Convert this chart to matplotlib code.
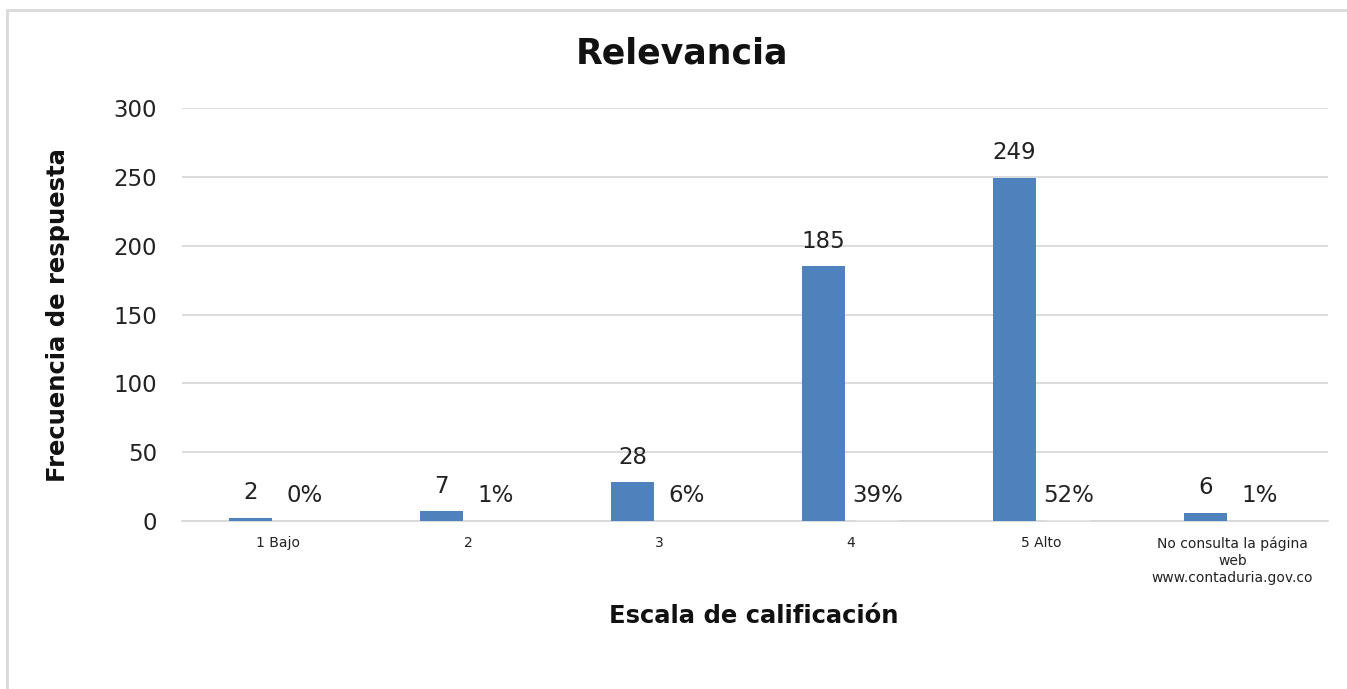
import matplotlib
matplotlib.use("Agg")
import matplotlib.pyplot as plt
import numpy as np
from matplotlib.patches import Rectangle

categories = ["1 Bajo", "2", "3", "4", "5 Alto",
              "No consulta la página\nweb\nwww.contaduria.gov.co"]
frecuencia = [2, 7, 28, 185, 249, 6]
porcentaje = [0, 1, 6, 39, 52, 1]  # percent labels

plt.rcParams['font.family'] = ['DejaVu Sans']
fig = plt.figure(figsize=(13.47, 6.89), dpi=100)
ax = fig.add_axes([182/1347, 1-521/689, (1328-182)/1347, (521-108)/689])

x = np.arange(len(categories))
w = 0.222
off = 0.142
blue = "#4f81bd"
ax.bar(x - off, frecuencia, width=w, color=blue, zorder=3)
ax.bar(x + off, [p/100 for p in porcentaje], width=w, color="#e6e6e6", zorder=3)

for xi, v in zip(x - off, frecuencia):
    ax.text(xi, v + 10, str(v), ha="center", va="bottom", fontsize=16.5, color="#222222")
for xi, p in zip(x + off, porcentaje):
    ax.text(xi, 10, f"{p}%", ha="center", va="bottom", fontsize=16.5, color="#222222")

ax.set_xlim(-0.5, len(categories) - 0.5)
ax.set_ylim(0, 300)
ax.set_yticks(range(0, 301, 50))
ax.set_xticks(x)
ax.set_xticklabels(categories, fontsize=10, color="#222222", linespacing=1.3)
ax.tick_params(axis="y", labelsize=16.5, colors="#222222", length=0, pad=18)
ax.tick_params(axis="x", length=0, pad=11)
ax.grid(axis="y", color="#d9d9d9", linewidth=1.3, zorder=0)
for s in ["top", "right", "left"]:
    ax.spines[s].set_visible(False)
ax.spines["bottom"].set_color("#d9d9d9")
ax.spines["bottom"].set_linewidth(1.3)

fig.text(682/1347, 1-53/689, "Relevancia", ha="center", va="center",
         fontsize=25, fontweight="bold", color="#111111")
fig.text(58/1347, 1-315/689, "Frecuencia de respuesta", ha="center", va="center",
         rotation=90, fontsize=17.5, fontweight="bold", color="#111111")
fig.text(754/1347, 1-616/689, "Escala de calificación", ha="center", va="center",
         fontsize=17.5, fontweight="bold", color="#111111")

fig.patches.append(Rectangle((7/1347, -0.1), 1.2, 1 - 10/689 + 0.1,
                             transform=fig.transFigure, fill=False,
                             edgecolor="#d9d9d9", linewidth=2))

fig.savefig("out.png", dpi=100)
